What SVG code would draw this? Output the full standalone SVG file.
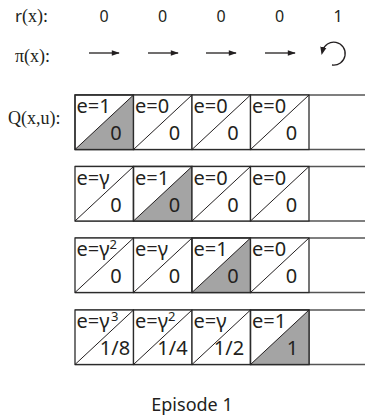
<svg xmlns="http://www.w3.org/2000/svg" width="365" height="417" viewBox="0 0 365 417">
  <style>
    .lbl { font-family: "Liberation Serif", "Times New Roman", serif; font-size: 18px; fill: #231f20; }
    .sans { font-family: "Noto Sans", "Open Sans", sans-serif; fill: #231f20; }
    .num { font-size: 16px; text-anchor: middle; }
    .e { font-size: 20px; }
    .v { font-size: 20px; text-anchor: middle; }
    .sup { font-size: 13px; }
    .box { fill: #ffffff; stroke: #2b2b2b; stroke-width: 1.3; }
    .diag { stroke: #231f20; stroke-width: 1; fill: none; }
    .shade { fill: #a4a4a4; stroke: none; }
    .rule { stroke: #555555; stroke-width: 1.3; fill: none; }
    .arr { stroke: #231f20; stroke-width: 1.3; fill: none; }
  </style>
  <defs>
    <marker id="head" viewBox="0 0 10 10" refX="9" refY="5" markerWidth="9" markerHeight="8" markerUnits="userSpaceOnUse" orient="auto">
      <path d="M0,1.5 L10,5 L0,8.5 Z" fill="#231f20"/>
    </marker>
    <marker id="headS" viewBox="0 0 10 10" refX="5" refY="5" markerWidth="8" markerHeight="8" markerUnits="userSpaceOnUse" orient="auto">
      <path d="M0,1 L10,5 L0,9 Z" fill="#231f20"/>
    </marker>
    <!-- one Q cell: outline and diagonal, 58.5 x 54.5 -->
    <g id="cell">
      <rect class="box" x="0" y="0" width="58.5" height="54.5"/>
      <line class="diag" x1="0" y1="54.5" x2="58.5" y2="0"/>
    </g>
    <g id="cellShaded">
      <rect class="box" x="0" y="0" width="58.5" height="54.5"/>
      <polygon class="shade" points="0,54.5 58.5,0 58.5,54.5"/>
      <rect x="0" y="0" width="58.5" height="54.5" fill="none" stroke="#2b2b2b" stroke-width="1.3"/>
      <line class="diag" x1="0" y1="54.5" x2="58.5" y2="0"/>
    </g>
  </defs>

  <!-- row labels -->
  <g id="labels">
    <text class="lbl" x="15" y="22"><tspan class="sans" font-size="17">r</tspan>(x):</text>
    <text class="lbl" x="15" y="62">π(x):</text>
    <text class="lbl" x="8" y="124">Q(x,u):</text>
  </g>

  <!-- rewards per state -->
  <g id="rewards" class="sans num">
    <text x="104" y="22">0</text>
    <text x="162.5" y="22">0</text>
    <text x="221" y="22">0</text>
    <text x="279.5" y="22">0</text>
    <text x="338" y="22">1</text>
  </g>

  <!-- policy arrows -->
  <g id="policy">
    <line class="arr" x1="89" y1="53" x2="119" y2="53" marker-end="url(#head)"/>
    <line class="arr" x1="148" y1="53" x2="178" y2="53" marker-end="url(#head)"/>
    <line class="arr" x1="206" y1="53" x2="236" y2="53" marker-end="url(#head)"/>
    <line class="arr" x1="265" y1="53" x2="295" y2="53" marker-end="url(#head)"/>
    <path class="arr" d="M332,65 A11.5,11.5 0 1 0 322.5,51" marker-end="url(#headS)"/>
  </g>

  <!-- row 1 -->
  <g id="row1">
    <line class="rule" x1="75" y1="95" x2="365" y2="95"/>
    <line class="rule" x1="75" y1="149.5" x2="365" y2="149.5"/>
    <g id="q1-1" transform="translate(75,95)"><use href="#cellShaded"/>
      <text class="sans e" x="1.5" y="18">e=1</text><text class="sans v" x="41" y="45">0</text></g>
    <g id="q1-2" transform="translate(133.5,95)"><use href="#cell"/>
      <text class="sans e" x="1.5" y="18">e=0</text><text class="sans v" x="41" y="45">0</text></g>
    <g id="q1-3" transform="translate(192,95)"><use href="#cell"/>
      <text class="sans e" x="1.5" y="18">e=0</text><text class="sans v" x="41" y="45">0</text></g>
    <g id="q1-4" transform="translate(250.5,95)"><use href="#cell"/>
      <text class="sans e" x="1.5" y="18">e=0</text><text class="sans v" x="41" y="45">0</text></g>
  </g>

  <!-- row 2 -->
  <g id="row2">
    <line class="rule" x1="75" y1="166.5" x2="365" y2="166.5"/>
    <line class="rule" x1="75" y1="221" x2="365" y2="221"/>
    <g id="q2-1" transform="translate(75,166.5)"><use href="#cell"/>
      <text class="sans e" x="1.5" y="18">e=γ</text><text class="sans v" x="41" y="45">0</text></g>
    <g id="q2-2" transform="translate(133.5,166.5)"><use href="#cellShaded"/>
      <text class="sans e" x="1.5" y="18">e=1</text><text class="sans v" x="41" y="45">0</text></g>
    <g id="q2-3" transform="translate(192,166.5)"><use href="#cell"/>
      <text class="sans e" x="1.5" y="18">e=0</text><text class="sans v" x="41" y="45">0</text></g>
    <g id="q2-4" transform="translate(250.5,166.5)"><use href="#cell"/>
      <text class="sans e" x="1.5" y="18">e=0</text><text class="sans v" x="41" y="45">0</text></g>
  </g>

  <!-- row 3 -->
  <g id="row3">
    <line class="rule" x1="75" y1="238" x2="365" y2="238"/>
    <line class="rule" x1="75" y1="292.5" x2="365" y2="292.5"/>
    <g id="q3-1" transform="translate(75,238)"><use href="#cell"/>
      <text class="sans e" x="1.5" y="18">e=γ<tspan class="sup" dy="-7">2</tspan></text><text class="sans v" x="41" y="45">0</text></g>
    <g id="q3-2" transform="translate(133.5,238)"><use href="#cell"/>
      <text class="sans e" x="1.5" y="18">e=γ</text><text class="sans v" x="41" y="45">0</text></g>
    <g id="q3-3" transform="translate(192,238)"><use href="#cellShaded"/>
      <text class="sans e" x="1.5" y="18">e=1</text><text class="sans v" x="41" y="45">0</text></g>
    <g id="q3-4" transform="translate(250.5,238)"><use href="#cell"/>
      <text class="sans e" x="1.5" y="18">e=0</text><text class="sans v" x="41" y="45">0</text></g>
  </g>

  <!-- row 4 -->
  <g id="row4">
    <line class="rule" x1="75" y1="310" x2="365" y2="310"/>
    <line class="rule" x1="75" y1="364.5" x2="365" y2="364.5"/>
    <g id="q4-1" transform="translate(75,310)"><use href="#cell"/>
      <text class="sans e" x="1.5" y="18">e=γ<tspan class="sup" dx="1.5" dy="-7">3</tspan></text><text class="sans v" x="40" y="45">1/8</text></g>
    <g id="q4-2" transform="translate(133.5,310)"><use href="#cell"/>
      <text class="sans e" x="1.5" y="18">e=γ<tspan class="sup" dy="-7">2</tspan></text><text class="sans v" x="39" y="45">1/4</text></g>
    <g id="q4-3" transform="translate(192,310)"><use href="#cell"/>
      <text class="sans e" x="1.5" y="18">e=γ</text><text class="sans v" x="37" y="45">1/2</text></g>
    <g id="q4-4" transform="translate(250.5,310)"><use href="#cellShaded"/>
      <text class="sans e" x="1.5" y="18">e=1</text><text class="sans v" x="42" y="45">1</text></g>
  </g>

  <!-- caption -->
  <text id="caption" class="sans" x="192" y="411" font-size="18" text-anchor="middle">Episode 1</text>
</svg>
